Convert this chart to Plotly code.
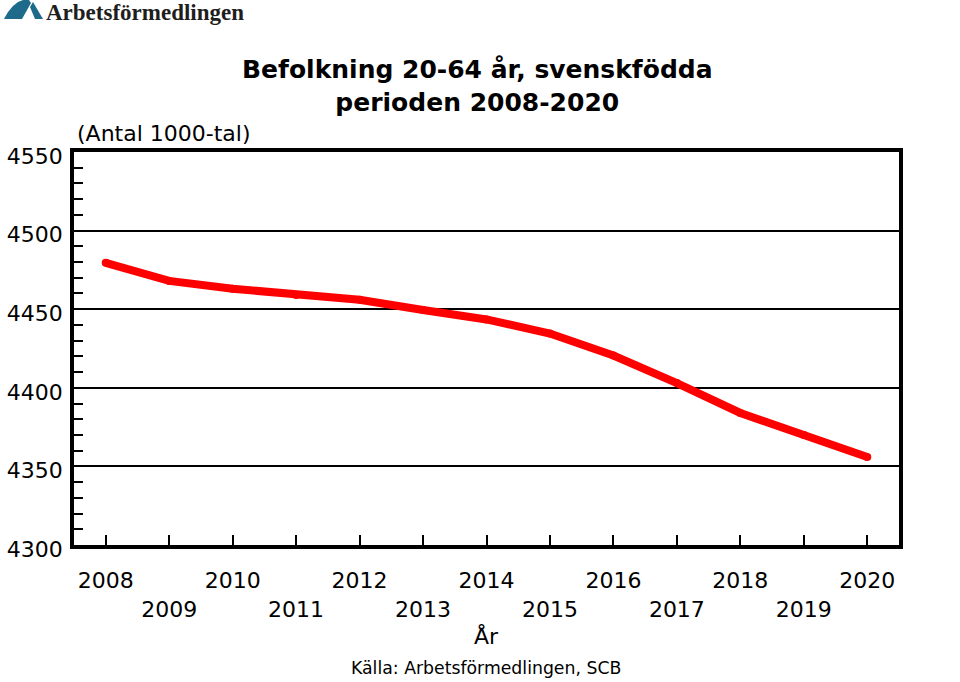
import plotly.graph_objects as go

years = list(range(2008, 2021))
population = [4479.5, 4468, 4463, 4459, 4456, 4449.5, 4443.5, 4434.5, 4420.5, 4403, 4384, 4370, 4356]
tick_text = [str(y) if y % 2 == 0 else "<br>" + str(y) for y in years]
y_ticks = [4300, 4350, 4400, 4450, 4500, 4550]

W, H = 960, 682
L, R, T, B = 74, 61, 152, 137
PW, PH = W - L - R, H - T - B

def px(x):
    return (x - L) / PW

def py(y):
    return (H - B - y) / PH

FONT = "DejaVu Sans, Liberation Sans, Arial, sans-serif"

fig = go.Figure()
fig.add_trace(go.Scatter(
    x=years, y=population, mode="lines+markers",
    line=dict(color="#ff0000", width=8),
    marker=dict(color="#ff0000", size=8),
    hoverinfo="x+y", showlegend=False,
))

fig.update_layout(
    width=W, height=H,
    margin=dict(l=L, r=R, t=T, b=B),
    paper_bgcolor="white", plot_bgcolor="white",
    font=dict(family=FONT, size=22, color="black"),
    xaxis=dict(
        range=[2007.5, 2020.5],
        tickmode="array", tickvals=years, ticktext=tick_text,
        ticks="inside", ticklen=10, tickwidth=2, tickcolor="black",
        showgrid=False, zeroline=False, automargin=False,
        showline=True, linewidth=3.5, linecolor="black", mirror=True,
        ticklabelstandoff=13,
        tickfont=dict(size=22),
    ),
    yaxis=dict(
        range=[4300, 4550],
        tickmode="array", tickvals=y_ticks,
        ticks="inside", ticklen=9, tickwidth=2, tickcolor="black",
        minor=dict(dtick=10, ticks="inside", ticklen=9, tickwidth=2, tickcolor="black", showgrid=False),
        showgrid=True, gridcolor="black", gridwidth=1.5,
        zeroline=False, automargin=False,
        showline=True, linewidth=3.5, linecolor="black", mirror=True,
        ticklabelshift=4, ticklabelstandoff=3,
        tickfont=dict(size=22),
    ),
)

annotations = [
    dict(text="<b>Befolkning 20-64 år, svenskfödda<br>perioden 2008-2020</b>",
         x=px(477), y=py(86.5), xanchor="center", yanchor="middle",
         font=dict(size=25)),
    dict(text="(Antal 1000-tal)", x=px(75), y=py(134), xanchor="left", yanchor="middle",
         font=dict(size=22)),
    dict(text="År", x=px(486), y=py(636), xanchor="center", yanchor="middle",
         font=dict(size=22)),
    dict(text="Källa: Arbetsförmedlingen, SCB", x=px(486), y=py(668), xanchor="center", yanchor="middle",
         font=dict(size=17.3)),
    dict(text="<b>Arbetsförmedlingen</b>", x=px(44), y=py(12.5), xanchor="left", yanchor="middle",
         font=dict(family="Liberation Serif, Times New Roman, serif", size=23, color="#1e1e1e")),
]
for a in annotations:
    a.update(xref="paper", yref="paper", showarrow=False)
fig.update_layout(annotations=annotations)

def path(points):
    return "M " + " L ".join(f"{px(x):.5f},{py(y):.5f}" for x, y in points) + " Z"

logo_color = "#1d6a8a"
fig.add_shape(type="path", xref="paper", yref="paper",
              path=path([(4, 19), (8, 12), (13, 6), (18, 2), (23, 0), (29, 0), (31, 3), (22, 19)]),
              fillcolor=logo_color, line=dict(width=0))
fig.add_shape(type="path", xref="paper", yref="paper",
              path=path([(30, 7), (33, 2), (43, 19), (35, 19)]),
              fillcolor=logo_color, line=dict(width=0))

fig.write_html("out.html", config={"displayModeBar": False},
               post_script="document.body.style.margin='0';")
